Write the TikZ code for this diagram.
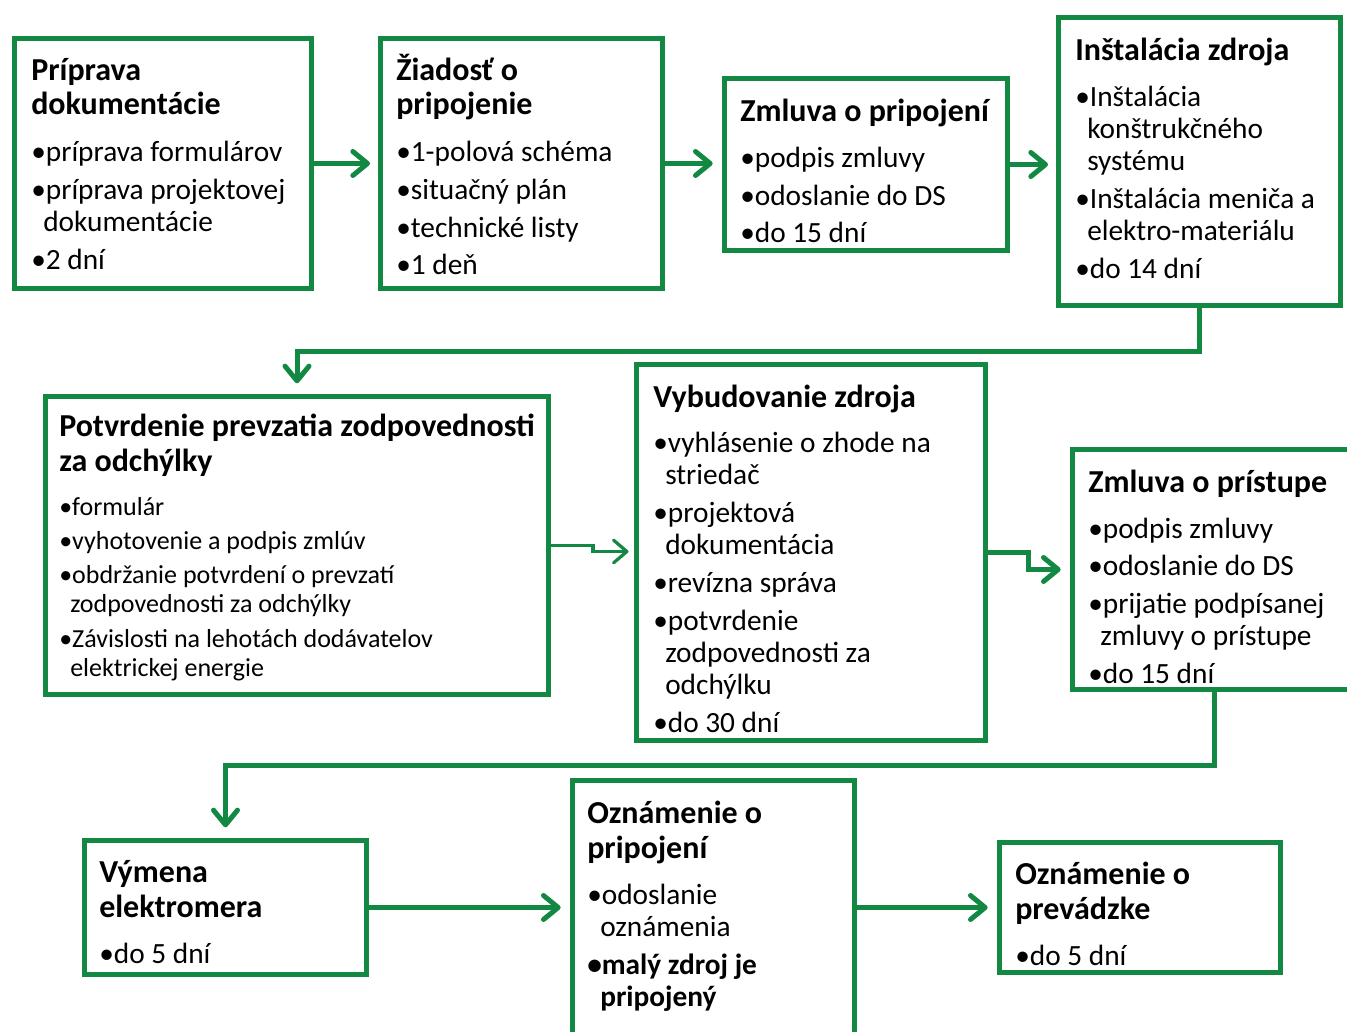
\documentclass[tikz,border=0pt]{standalone}
\usepackage{fontspec}
\setmainfont{Carlito}
\usetikzlibrary{arrows.meta,calc}
\definecolor{grn}{RGB}{18,136,66}
\newcommand\boxnode[5]{\node[bx, minimum width={(#4-#2)*0.75pt}, minimum height={(#5-#3)*0.75pt}] (#1) at ({(#2+#4)/2},{(#3+#5)/2}) {};}
\newcommand\txl[5]{\node[#1] (#2) at (#3,#4) {#5};}
\begin{document}
\begin{tikzpicture}[x=0.75pt,y=-0.75pt,
  bx/.style={draw=grn, line width=3.75pt, inner sep=0pt, fill=none},
  ttl/.style={font=\fontsize{24}{28}\selectfont\bfseries, anchor=base west, inner sep=0pt},
  bod/.style={font=\fontsize{22}{26}\selectfont, anchor=base west, inner sep=0pt},
  bods/.style={font=\fontsize{19.5}{23}\selectfont, anchor=base west, inner sep=0pt},
  bodb/.style={font=\fontsize{22}{26}\selectfont\bfseries, anchor=base west, inner sep=0pt},
  conn/.style={draw=grn, line width=3.75pt, -{Straight Barb[length=11pt,width=18pt,round]}},
  connt/.style={draw=grn, line width=2.4pt, -{Straight Barb[length=10pt,width=17pt,round]}}]
\useasboundingbox (0,0) rectangle (1347,1032);
% boxes
\boxnode{b1}{14.5}{38.5}{311.5}{288.5}
\boxnode{b2}{380.5}{38.5}{662.5}{288.5}
\boxnode{b3}{724.5}{78.5}{1007.5}{250.5}
\boxnode{b4}{1058.5}{17.5}{1340.5}{305.5}
\boxnode{b5}{45.5}{396.5}{548.5}{694.5}
\boxnode{b6}{636.5}{364.5}{985.5}{740.5}
\boxnode{b7}{1072.5}{449.5}{1355.5}{689.5}
\boxnode{b8}{84.5}{840.5}{366.5}{974.5}
\boxnode{b9}{572.5}{780.5}{854.5}{1050}
\boxnode{b10}{999.5}{842.5}{1280.5}{972.5}
% box 1
\txl{ttl}{t1a}{31}{80}{Príprava}
\txl{ttl}{t1b}{31}{114}{dokumentácie}
\txl{bod}{t1c}{31}{161}{•príprava formulárov}
\txl{bod}{t1d}{31}{199}{•príprava projektovej}
\txl{bod}{t1e}{43}{231}{dokumentácie}
\txl{bod}{t1f}{31}{269}{•2 dní}
% box 2
\txl{ttl}{t2a}{396}{80}{Žiadosť o}
\txl{ttl}{t2b}{396}{114}{pripojenie}
\txl{bod}{t2c}{396}{161}{•1-polová schéma}
\txl{bod}{t2d}{396}{199}{•situačný plán}
\txl{bod}{t2e}{396}{237}{•technické listy}
\txl{bod}{t2f}{396}{274}{•1 deň}
% box 3
\txl{ttl}{t3a}{740}{121}{Zmluva o pripojení}
\txl{bod}{t3b}{740}{167}{•podpis zmluvy}
\txl{bod}{t3c}{740}{205}{•odoslanie do DS}
\txl{bod}{t3d}{740}{242}{•do 15 dní}
% box 4
\txl{ttl}{t4a}{1075}{60}{Inštalácia zdroja}
\txl{bod}{t4b}{1075}{106}{•Inštalácia}
\txl{bod}{t4c}{1087}{138}{konštrukčného}
\txl{bod}{t4d}{1087}{170}{systému}
\txl{bod}{t4e}{1075}{208}{•Inštalácia meniča a}
\txl{bod}{t4f}{1087}{240}{elektro-materiálu}
\txl{bod}{t4g}{1075}{278}{•do 14 dní}
% box 5
\txl{ttl}{t5a}{59}{436}{Potvrdenie prevzatia zodpovednosti}
\txl{ttl}{t5b}{59}{471}{za odchýlky}
\txl{bods}{t5c}{59}{515}{•formulár}
\txl{bods}{t5d}{59}{549}{•vyhotovenie a podpis zmlúv}
\txl{bods}{t5e}{59}{583}{•obdržanie potvrdení o prevzatí}
\txl{bods}{t5f}{70}{612}{zodpovednosti za odchýlky}
\txl{bods}{t5g}{59}{647}{•Závislosti na lehotách dodávatelov}
\txl{bods}{t5h}{70}{676}{elektrickej energie}
% box 6
\txl{ttl}{t6a}{653}{407}{Vybudovanie zdroja}
\txl{bod}{t6b}{653}{452}{•vyhlásenie o zhode na}
\txl{bod}{t6c}{665}{484}{striedač}
\txl{bod}{t6d}{653}{522}{•projektová}
\txl{bod}{t6e}{665}{554}{dokumentácia}
\txl{bod}{t6f}{653}{592}{•revízna správa}
\txl{bod}{t6g}{653}{630}{•potvrdenie}
\txl{bod}{t6h}{665}{662}{zodpovednosti za}
\txl{bod}{t6i}{665}{694}{odchýlku}
\txl{bod}{t6j}{653}{732}{•do 30 dní}
% box 7
\txl{ttl}{t7a}{1088}{492}{Zmluva o prístupe}
\txl{bod}{t7b}{1088}{538}{•podpis zmluvy}
\txl{bod}{t7c}{1088}{575}{•odoslanie do DS}
\txl{bod}{t7d}{1088}{613}{•prijatie podpísanej}
\txl{bod}{t7e}{1100}{645}{zmluvy o prístupe}
\txl{bod}{t7f}{1088}{683}{•do 15 dní}
% box 8
\txl{ttl}{t8a}{99}{882}{Výmena}
\txl{ttl}{t8b}{99}{917}{elektromera}
\txl{bod}{t8c}{99}{963}{•do 5 dní}
% box 9
\txl{ttl}{t9a}{587}{823}{Oznámenie o}
\txl{ttl}{t9b}{587}{858}{pripojení}
\txl{bod}{t9c}{587}{904}{•odoslanie}
\txl{bod}{t9d}{600}{936}{oznámenia}
\txl{bodb}{t9e}{587}{974}{•malý zdroj je}
\txl{bodb}{t9f}{600}{1006}{pripojený}
% box 10
\txl{ttl}{t10a}{1015}{884}{Oznámenie o}
\txl{ttl}{t10b}{1015}{919}{prevádzke}
\txl{bod}{t10c}{1015}{965}{•do 5 dní}
% connectors
\coordinate (m1) at (0,351);
\coordinate (m2) at (0,765);
\coordinate (k5) at (593,0);
\coordinate (k6) at (1028,0);
\draw[conn, shorten >=6pt] (b1.east) -- (b2.west);
\draw[conn, shorten >=7pt] (b2.east) -- (b2.east -| b3.west);
\draw[conn, shorten >=6pt] (b3.east) -- (b3.east -| b4.west);
\draw[conn, shorten >=8pt] (b4.south) |- (m1 -| b5.north) -- (b5.north);
\draw[connt, shorten >=6pt] (b5.east) -- (b5.east -| k5) -- ++(0,6) -- ++(43.5,0);
\draw[conn, shorten >=7pt] (b6.east) -- (b6.east -| k6) |- (b7.west);
\draw[conn, shorten >=8pt] (b7.south) |- (m2 -| b8.north) -- (b8.north);
\draw[conn, shorten >=7pt] (b8.east) -- (b8.east -| b9.west);
\draw[conn, shorten >=7pt] (b10.west -| b9.east) -- (b10.west);
\end{tikzpicture}
\end{document}
